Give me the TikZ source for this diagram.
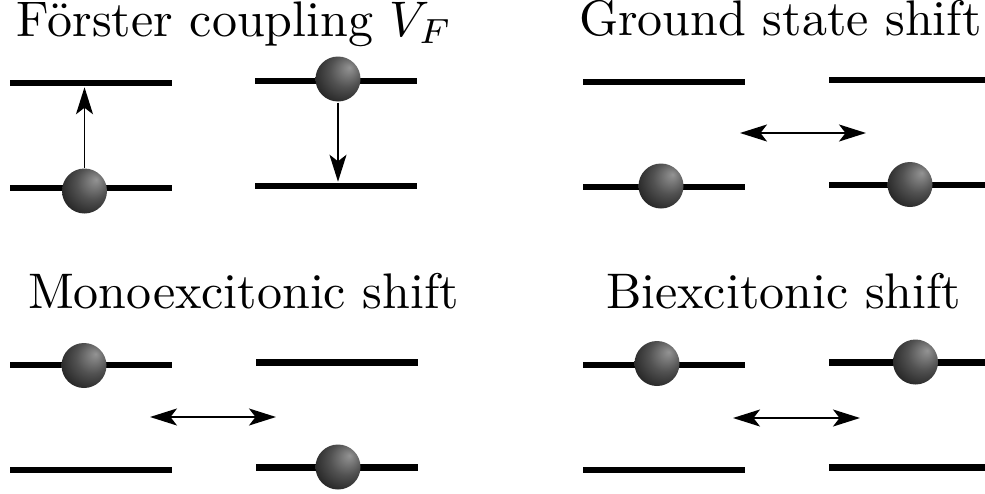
\documentclass[tikz,border=0pt]{standalone}
\usetikzlibrary{arrows.meta,positioning}
\pgfdeclareradialshading{exciton}{\pgfpoint{13bp}{13bp}}{color(0bp)=(black!42); color(18bp)=(black!68); color(40bp)=(black!92); color(60bp)=(black)}

\begin{document}
\begin{tikzpicture}[x=0.2pt,y=-0.2pt,
  level/.style={fill=black,inner sep=0pt,minimum width=32.4pt,minimum height=1.3pt},
  edgelevel/.style={level,minimum width=31.2pt},
  dot/.style={circle,inner sep=0pt,minimum size=9pt,shading=exciton},
  title/.style={anchor=base west,inner sep=0pt},
  hop/.style={line width=0.35pt},
  tip/.style={-{Stealth[length=5.4pt,width=3.4pt,inset=1.3pt]}},
  tips/.style={{Stealth[length=5.4pt,width=3.4pt,inset=1.3pt]}-{Stealth[length=5.4pt,width=3.4pt,inset=1.3pt]}}]
\useasboundingbox (0,0) rectangle (985,493);
% titles
\node[title] (tf) at (15,36) {F\"orster coupling $V_F$};
\node[title] (tg) at (578,35) {Ground state shift};
\node[title] (tm) at (27,308) {Monoexcitonic shift};
\node[title] (tb) at (605,308) {Biexcitonic shift};
% levels
\node[level] (fa1) at (91,83) {};
\node[level] (fa2) at (91,188) {};
\node[level] (fb1) at (336,81) {};
\node[level] (fb2) at (336,186) {};
\node[level] (ga1) at (664,82) {};
\node[level] (ga2) at (664,187) {};
\node[edgelevel] (gb1) at (907,80) {};
\node[edgelevel] (gb2) at (907,185) {};
\node[level] (ma1) at (91,365) {};
\node[level] (ma2) at (91,470) {};
\node[level] (mb1) at (336.5,362.5) {};
\node[level] (mb2) at (336.5,467.5) {};
\node[level] (ba1) at (664,365) {};
\node[level] (ba2) at (664,470) {};
\node[edgelevel] (bb1) at (907,362.5) {};
\node[edgelevel] (bb2) at (907,467.5) {};
% excitations
\node[dot] (fx1) at (84.5,191) {};
\node[dot] (fx2) at (338,79) {};
\node[dot] (gx1) at (661,186) {};
\node[dot] (gx2) at (910,184.5) {};
\node[dot] (mx1) at (84,365.5) {};
\node[dot] (mx2) at (338,467) {};
\node[dot] (bx1) at (657,363.5) {};
\node[dot] (bx2) at (915.5,362) {};
% ends of the shift arrows
\coordinate (gl) at (740,133);
\coordinate (gr) at (866,133);
\coordinate (ml) at (150,417);
\coordinate (mr) at (276,417);
\coordinate (bl) at (733,418);
\coordinate (br) at (860,418);
\path[hop,tip]
(fx1.north) edge (fx1.north |- fa1.south)
(fx2.south) edge (fx2.south |- fb2.north)
;
\path[hop,tips]
(gl) edge (gr)
(ml) edge (mr)
(bl) edge (br)
;
\end{tikzpicture}
\end{document}
